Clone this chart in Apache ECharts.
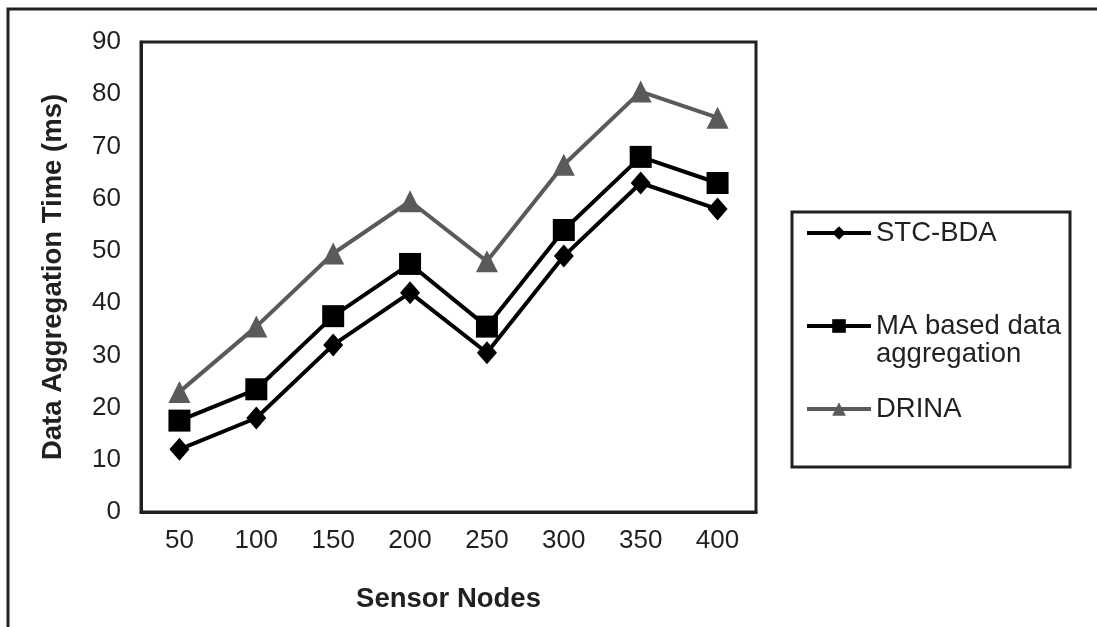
<!DOCTYPE html>
<html>
<head>
<meta charset="utf-8">
<script src="https://cdn.jsdelivr.net/npm/echarts@6/dist/echarts.min.js"></script>
<style>
html,body{margin:0;padding:0;background:#fff;}
#chart{width:1097px;height:627px;}
</style>
</head>
<body>
<div id="chart"></div>
<script>
const categories = ['50','100','150','200','250','300','350','400'];
const stcBda = [12, 18, 32, 42, 30.5, 49, 63, 58];
const maBased = [17.5, 23.5, 37.5, 47.5, 35.5, 54, 68, 63];
const drina = [23, 35.5, 49.5, 59.5, 48, 66.5, 80.5, 75.5];
const seriesNames = ['STC-BDA', 'MA based data aggregation', 'DRINA'];
const yTitle = 'Data Aggregation Time (ms)';
const xTitle = 'Sensor Nodes';

const FONT = "'Liberation Sans', Arial, sans-serif";
const INK = '#231f20';
const GRAY = '#5a5a5a';

const chart = echarts.init(document.getElementById('chart'), null, {renderer:'canvas'});

function legendComp(name, top) {
  return {
    data: [name],
    orient: 'vertical',
    left: 805,
    top: top,
    itemWidth: 64,
    itemHeight: 17,
    padding: 0,
    selectedMode: false,
    lineStyle: {width: 4},
    formatter: function(n){
      return n === 'MA based data aggregation'
        ? '{p| }\n{t|MA based data}\n{t|aggregation}'
        : '{t|' + n + '}';
    },
    textStyle: {
      fontFamily: FONT, fontSize: 27.5, color: INK, lineHeight: 28,
      rich: {
        p: {fontFamily: FONT, fontSize: 27.5, lineHeight: 28, color: INK},
        t: {fontFamily: FONT, fontSize: 27.5, lineHeight: 28, color: INK}
      }
    }
  };
}

chart.setOption({
  backgroundColor: '#fff',
  animation: false,
  grid: {
    left: 141, top: 42, right: 341, bottom: 115,
    show: true, borderColor: INK, borderWidth: 3, backgroundColor: 'transparent'
  },
  graphic: [
    {type:'rect', shape:{x:8, y:9, width:1200, height:1000}, style:{fill:'none', stroke:INK, lineWidth:3}, silent:true},
    {type:'rect', shape:{x:792, y:212, width:278, height:255}, style:{fill:'none', stroke:INK, lineWidth:3}, silent:true}
  ],
  legend: [
    legendComp(seriesNames[0], 219),
    legendComp(seriesNames[1], 284),
    legendComp(seriesNames[2], 395)
  ],
  xAxis: {
    type: 'category',
    data: categories,
    boundaryGap: true,
    axisLine: {show: true, lineStyle:{color: INK, width: 3}},
    axisTick: {show: false},
    axisLabel: {fontFamily: FONT, fontSize: 26, color: INK, margin: 16},
    name: xTitle,
    nameLocation: 'middle',
    nameGap: 73,
    nameTextStyle: {fontFamily: FONT, fontSize: 27.5, fontWeight: 'bold', color: INK}
  },
  yAxis: {
    type: 'value',
    min: 0, max: 90, interval: 10,
    axisLine: {show: true, lineStyle:{color: INK, width: 3}},
    axisTick: {show: false},
    splitLine: {show: false},
    axisLabel: {fontFamily: FONT, fontSize: 26, color: INK, margin: 20},
    name: yTitle,
    nameLocation: 'middle',
    nameGap: 74,
    nameTextStyle: {fontFamily: FONT, fontSize: 27.5, fontWeight: 'bold', color: INK}
  },
  series: [
    {
      name: seriesNames[0], type: 'line', data: stcBda,
      symbol: 'diamond', symbolSize: [20, 23],
      lineStyle: {color: '#000', width: 4},
      itemStyle: {color: '#000'},
      z: 4
    },
    {
      name: seriesNames[1], type: 'line', data: maBased,
      symbol: 'rect', symbolSize: 22,
      lineStyle: {color: '#000', width: 4},
      itemStyle: {color: '#000'},
      z: 3
    },
    {
      name: seriesNames[2], type: 'line', data: drina,
      symbol: 'triangle', symbolSize: 22,
      lineStyle: {color: GRAY, width: 4},
      itemStyle: {color: GRAY},
      z: 2
    }
  ]
});
</script>
</body>
</html>
